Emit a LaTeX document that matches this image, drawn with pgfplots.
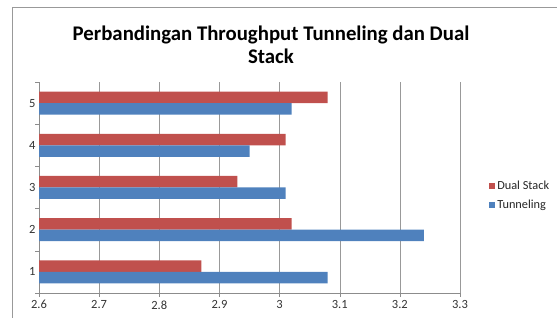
\documentclass[border=0pt]{standalone}
\usepackage{pgfplots}
\pgfplotsset{compat=1.18}
\usepackage{fontspec}
\setmainfont{Carlito}
\definecolor{dsred}{HTML}{C0504D}
\definecolor{tnblue}{HTML}{4F81BD}
\begin{document}
\begin{tikzpicture}[x=1pt,y=1pt]
\path[use as bounding box] (0,0) rectangle (557,318);
\draw[black!40, line width=1pt] (12.5,0) -- (12.5,310) -- (557,310);
\node[font=\fontsize{20.8}{23.5}\selectfont\bfseries, align=center, anchor=center] at (271,273) {Perbandingan Throughput Tunneling dan Dual\\Stack};
\begin{axis}[at={(39pt,25pt)}, anchor=south west, scale only axis,
  width=421pt, height=211pt,
  xbar, xmin=2.6, xmax=3.3, ymin=0.5, ymax=5.5,
  bar width=11.5pt,
  xtick={2.6,2.7,2.8,2.9,3.0,3.1,3.2,3.3},
  xticklabels={2.6,2.7,2.8,2.9,3,3.1,3.2,3.3},
  ytick={0.5,1.5,2.5,3.5,4.5,5.5}, yticklabels={},
  extra y ticks={1,2,3,4,5},
  extra y tick labels={1,2,3,4,5},
  extra y tick style={major tick length=0pt},
  axis x line=bottom, axis y line=left,
  axis line style={draw=black!45, -},
  tick style={draw=black!45},
  tick align=outside, major tick length=4pt,
  xmajorgrids, grid style={draw=black!40},
  ticklabel style={font=\fontsize{12.5}{14}\selectfont, text=black!80},
  /pgf/number format/assume math mode=true,
  legend style={draw=none, at={(1.062,0.46)}, anchor=west,
    font=\fontsize{12.3}{14}\selectfont, row sep=5pt, text=black!85},
  legend cell align=left,
  legend image code/.code={\fill (0pt,-3pt) rectangle (6pt,3pt);},
]
\addplot[fill=dsred, draw=none, bar shift=5.75pt] coordinates {(2.87,1) (3.02,2) (2.93,3) (3.01,4) (3.08,5)};
\addlegendentry{Dual Stack}
\addplot[fill=tnblue, draw=none, bar shift=-5.75pt] coordinates {(3.08,1) (3.24,2) (3.01,3) (2.95,4) (3.02,5)};
\addlegendentry{Tunneling}
\end{axis}
\end{tikzpicture}
\end{document}
